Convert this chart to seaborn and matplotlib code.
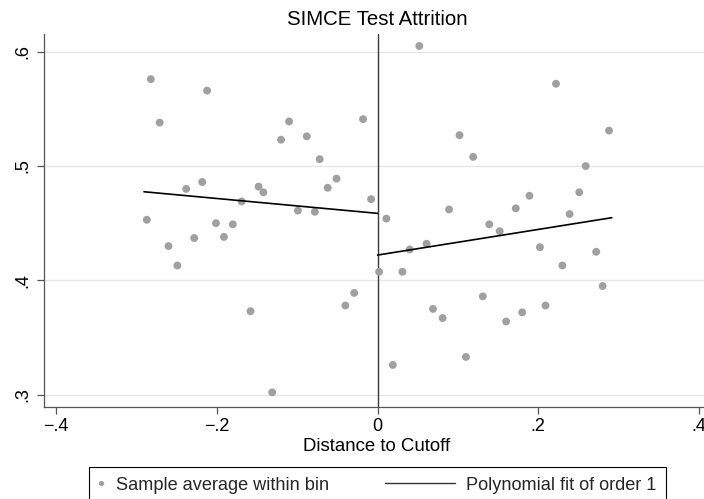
import matplotlib
matplotlib.use("Agg")
import matplotlib.pyplot as plt
import seaborn as sns
import pandas as pd
from matplotlib.lines import Line2D
from matplotlib.legend_handler import HandlerBase

# ---------------- data ----------------
left_x = [-0.287, -0.282, -0.271, -0.260, -0.249, -0.238, -0.228, -0.218, -0.212, -0.201,
          -0.191, -0.180, -0.169, -0.158, -0.148, -0.142, -0.131, -0.120, -0.110, -0.099,
          -0.088, -0.078, -0.072, -0.062, -0.051, -0.040, -0.029, -0.018, -0.008]
left_y = [0.453, 0.576, 0.538, 0.430, 0.413, 0.480, 0.437, 0.486, 0.566, 0.450,
          0.438, 0.449, 0.469, 0.373, 0.482, 0.477, 0.302, 0.523, 0.539, 0.461,
          0.526, 0.460, 0.506, 0.481, 0.489, 0.378, 0.389, 0.541, 0.471]
right_x = [0.002, 0.011, 0.019, 0.031, 0.040, 0.052, 0.061, 0.069, 0.081, 0.089,
           0.102, 0.110, 0.119, 0.131, 0.139, 0.152, 0.160, 0.172, 0.180, 0.189,
           0.202, 0.209, 0.222, 0.230, 0.239, 0.251, 0.259, 0.272, 0.280, 0.288]
right_y = [0.4075, 0.454, 0.326, 0.4075, 0.427, 0.605, 0.432, 0.375, 0.367, 0.462,
           0.527, 0.333, 0.508, 0.386, 0.449, 0.443, 0.364, 0.463, 0.372, 0.474,
           0.429, 0.378, 0.572, 0.413, 0.458, 0.477, 0.500, 0.425, 0.395, 0.531]
fit_left_x = [-0.2905, 0.0]
fit_left_y = [0.4775, 0.4586]
fit_right_x = [0.0, 0.2914]
fit_right_y = [0.4221, 0.4548]

xticks = [-0.4, -0.2, 0.0, 0.2, 0.4]
xtick_labels = ["\u2212.4", "\u2212.2", "0", ".2", ".4"]
yticks = [0.3, 0.4, 0.5, 0.6]
ytick_labels = [".3", ".4", ".5", ".6"]
title = "SIMCE Test Attrition"
xlabel = "Distance to Cutoff"
legend_labels = ["Sample average within bin", "Polynomial fit of order 1"]

# ---------------- style ----------------
sns.set_theme(style="white")
plt.rcParams["font.family"] = ["Liberation Sans", "DejaVu Sans"]

W, H = 704, 499
fig = plt.figure(figsize=(W / 100, H / 100), dpi=100)
ax = fig.add_axes([44 / W, 1 - 407 / H, (710 - 44) / W, (407 - 34) / H])

pts = pd.DataFrame({"x": left_x + right_x, "y": left_y + right_y})
fl = pd.DataFrame({"x": fit_left_x, "y": fit_left_y})
fr = pd.DataFrame({"x": fit_right_x, "y": fit_right_y})

for yt in yticks:
    ax.axhline(yt, color="#e6e6e6", lw=1.0, zorder=0)
ax.axvline(0, color="#3a3a3a", lw=1.0, zorder=1)

sns.scatterplot(data=pts, x="x", y="y", ax=ax, color="#a0a0a0", s=32,
                edgecolor="none", linewidth=0, zorder=3, legend=False)
sns.lineplot(data=fl, x="x", y="y", ax=ax, color="black", lw=1.2, zorder=4,
             legend=False, errorbar=None)
sns.lineplot(data=fr, x="x", y="y", ax=ax, color="black", lw=1.2, zorder=4,
             legend=False, errorbar=None)

ax.set_xlim(-0.4149, 0.4136)
ax.set_ylim(0.2892, 0.6155)
ax.set_xticks(xticks)
ax.set_xticklabels(xtick_labels)
ax.set_yticks(yticks)
ax.set_yticklabels(ytick_labels, rotation=90, va="center")
ax.tick_params(axis="both", direction="out", length=5, width=0.9, color="#555555",
               labelsize=13, labelcolor="black", bottom=True, left=True)
ax.tick_params(axis="x", pad=3)
ax.tick_params(axis="y", pad=4)

for side in ["top", "right"]:
    ax.spines[side].set_visible(False)
for side in ["left", "bottom"]:
    ax.spines[side].set_color("#555555")
    ax.spines[side].set_linewidth(0.9)

ax.set_xlabel(xlabel, fontsize=13.4, labelpad=2, color="black")
ax.set_ylabel("")
ax.set_title(title, fontsize=14.7, pad=6.3, color="black")


class LongLineHandler(HandlerBase):
    def __init__(self, length_pt):
        super().__init__()
        self.length = length_pt

    def create_artists(self, legend, orig_handle, xdescent, ydescent, width,
                       height, fontsize, trans):
        y = height / 2 - ydescent
        x1 = width - xdescent
        ln = Line2D([x1 - self.length, x1], [y, y], color=orig_handle.get_color(),
                    lw=orig_handle.get_linewidth(), transform=trans)
        return [ln]


h_pt = Line2D([], [], marker="o", ls="", color="#a0a0a0", markersize=3.8,
              markeredgewidth=0)
h_ln = Line2D([], [], color="#333333", lw=1.0)
leg = fig.legend([h_pt, h_ln], legend_labels, loc="upper center",
                 bbox_to_anchor=(377.5 / W, 1 - 467 / H), ncol=2, fontsize=13.1,
                 frameon=True, fancybox=False, edgecolor="black", framealpha=1,
                 borderaxespad=0, borderpad=0.53, handlelength=0.33,
                 handletextpad=0.63, columnspacing=6.6,
                 handler_map={h_ln: LongLineHandler(50.4)})
leg.get_frame().set_linewidth(0.8)

fig.savefig("out.png", dpi=100)
